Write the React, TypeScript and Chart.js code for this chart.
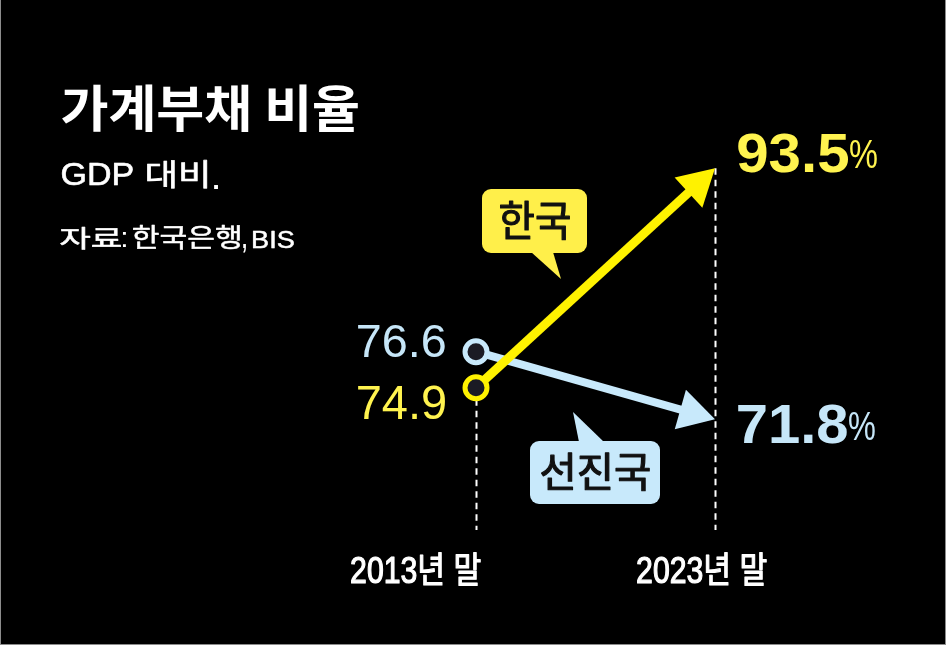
import React, { useEffect, useRef } from "react";
import { Chart, registerables } from "chart.js";

Chart.register(...registerables);

// ---- data ----
const periods = ["2013년 말", "2023년 말"];
const seriesNames = ["한국", "선진국"];
const koreaValues = [74.9, 93.5];
const advancedValues = [76.6, 71.8];
const titleText = "가계부채 비율";
const subtitleRuns = ["GDP", "대비", "."];
const sourceRuns = ["자료", ":", "한국은행", ",", "BIS"];

// ---- styles ----
const YELLOW = "#fff200";
const YELLOW_TEXT = "#fff34f";
const YELLOW_BOX = "#ffef4a";
const BLUE = "#c8e9fb";
const BLUE_TEXT = "#c6e6f8";
const DARK = "#1b1b24";
const LATIN = "'Liberation Sans', 'Noto Sans CJK KR', sans-serif";
const KR = "'Noto Sans CJK KR', 'Liberation Sans', sans-serif";

function fitText(
  ctx: CanvasRenderingContext2D,
  text: string,
  family: string,
  weight: string,
  color: string,
  x0: number,
  x1: number,
  y0: number,
  y1: number,
  extra = 0
) {
  ctx.save();
  ctx.font = `${weight} 100px ${family}`;
  ctx.textAlign = "left";
  ctx.textBaseline = "alphabetic";
  const m = ctx.measureText(text);
  const asc = m.actualBoundingBoxAscent;
  const desc = m.actualBoundingBoxDescent;
  const inkL = m.actualBoundingBoxLeft;
  const inkR = m.actualBoundingBoxRight;
  const e = extra / 2;
  const size = (100 * (y1 - y0 - extra)) / (asc + desc);
  const k = size / 100;
  const sx = (x1 - x0 - extra) / ((inkL + inkR) * k);
  ctx.font = `${weight} ${size}px ${family}`;
  ctx.fillStyle = color;
  ctx.strokeStyle = color;
  ctx.lineJoin = "round";
  ctx.translate(x0 + e, y0 + e + asc * k);
  ctx.scale(sx, 1);
  ctx.fillText(text, inkL * k, 0);
  if (extra > 0) {
    ctx.lineWidth = extra;
    ctx.strokeText(text, inkL * k, 0);
  }
  ctx.restore();
}

function bubble(
  ctx: CanvasRenderingContext2D,
  color: string,
  x: number,
  y: number,
  w: number,
  h: number,
  tail: number[][]
) {
  ctx.save();
  ctx.fillStyle = color;
  ctx.beginPath();
  (ctx as any).roundRect(x, y, w, h, 9);
  ctx.fill();
  ctx.beginPath();
  ctx.moveTo(tail[0][0], tail[0][1]);
  ctx.lineTo(tail[1][0], tail[1][1]);
  ctx.lineTo(tail[2][0], tail[2][1]);
  ctx.closePath();
  ctx.fill();
  ctx.restore();
}

const HEAD_LEN = 36;
const HEAD_HALF = 20.5;

function arrowVectors(meta: any) {
  const pts = meta.data;
  const tip = pts[pts.length - 1];
  const prev = pts[pts.length - 2];
  const dx = tip.x - prev.x;
  const dy = tip.y - prev.y;
  const len = Math.hypot(dx, dy);
  const ux = dx / len;
  const uy = dy / len;
  return { tip, ux, uy, nx: -uy, ny: ux };
}

const infographicPlugin = {
  id: "infographic",
  beforeDraw(chart: any) {
    const { ctx, width, height } = chart;
    ctx.save();
    ctx.fillStyle = "#000000";
    ctx.fillRect(0, 0, width, height);
    ctx.fillStyle = "#8c8c8c";
    ctx.fillRect(0, 0, 1, height);
    ctx.fillRect(width - 1, 0, 1, height);
    ctx.fillRect(0, height - 1, width, 1);
    ctx.restore();
  },
  beforeDatasetsDraw(chart: any) {
    const { ctx } = chart;
    const xs = chart.scales.x;
    const yK = chart.scales.yK;
    ctx.save();
    ctx.strokeStyle = "#ffffff";
    ctx.lineWidth = 2;
    ctx.setLineDash([6.5, 5]);
    koreaValues.forEach((v, i) => {
      const x = Math.round(xs.getPixelForValue(i)) + 0.5;
      const y = yK.getPixelForValue(v);
      ctx.beginPath();
      ctx.moveTo(x, y);
      ctx.lineTo(x, 530);
      ctx.stroke();
    });
    ctx.restore();
  },
  beforeDatasetDraw(chart: any, args: any) {
    const { ctx } = chart;
    const { tip, ux, uy, nx, ny } = arrowVectors(args.meta);
    const bx = tip.x - ux * HEAD_LEN * 0.6;
    const by = tip.y - uy * HEAD_LEN * 0.6;
    const L = 3000;
    ctx.save();
    ctx.beginPath();
    ctx.moveTo(bx + nx * L, by + ny * L);
    ctx.lineTo(bx + nx * L - ux * L, by + ny * L - uy * L);
    ctx.lineTo(bx - nx * L - ux * L, by - ny * L - uy * L);
    ctx.lineTo(bx - nx * L, by - ny * L);
    ctx.closePath();
    ctx.clip();
  },
  afterDatasetDraw(chart: any, args: any) {
    const { ctx } = chart;
    ctx.restore();
    const { tip, ux, uy, nx, ny } = arrowVectors(args.meta);
    const ds = chart.data.datasets[args.index];
    const bx = tip.x - ux * HEAD_LEN;
    const by = tip.y - uy * HEAD_LEN;
    ctx.save();
    ctx.fillStyle = ds.borderColor;
    ctx.beginPath();
    ctx.moveTo(tip.x, tip.y);
    ctx.lineTo(bx + nx * HEAD_HALF, by + ny * HEAD_HALF);
    ctx.lineTo(bx - nx * HEAD_HALF, by - ny * HEAD_HALF);
    ctx.closePath();
    ctx.fill();
    ctx.restore();
  },
  afterDraw(chart: any) {
    const { ctx } = chart;
    const xs = chart.scales.x;
    const yK = chart.scales.yK;
    const yA = chart.scales.yA;
    const W = "#ffffff";

    // headings
    fitText(ctx, titleText, KR, "bold", W, 62, 358, 85, 132);
    fitText(ctx, subtitleRuns[0], LATIN, "normal", W, 62, 133, 163, 186, 0.6);
    fitText(ctx, subtitleRuns[1], KR, "normal", W, 147, 207, 160, 188, 0.6);
    fitText(ctx, subtitleRuns[2], LATIN, "normal", W, 214, 218, 185, 189);
    fitText(ctx, sourceRuns[0], KR, "normal", W, 60, 121, 226, 249, 0.5);
    fitText(ctx, sourceRuns[1], LATIN, "normal", W, 123, 126, 232, 247);
    fitText(ctx, sourceRuns[2], KR, "normal", W, 133, 240, 225, 250, 0.5);
    fitText(ctx, sourceRuns[3], LATIN, "normal", W, 243, 246, 244, 253);
    fitText(ctx, sourceRuns[4], LATIN, "normal", W, 253, 294, 230, 248, 0.5);

    // start values
    const x0 = xs.getPixelForValue(0);
    const x1 = xs.getPixelForValue(1);
    const aStart = yA.getPixelForValue(advancedValues[0]);
    const kStart = yK.getPixelForValue(koreaValues[0]);
    fitText(ctx, advancedValues[0].toFixed(1), LATIN, "normal", BLUE_TEXT, x0 - 118, x0 - 31, aStart - 27, aStart + 6);
    fitText(ctx, koreaValues[0].toFixed(1), LATIN, "normal", YELLOW_TEXT, x0 - 118, x0 - 31, kStart - 2, kStart + 32);

    // end values
    const kEnd = yK.getPixelForValue(koreaValues[1]);
    const aEnd = yA.getPixelForValue(advancedValues[1]);
    fitText(ctx, koreaValues[1].toFixed(1), LATIN, "bold", YELLOW_TEXT, x1 + 23, x1 + 133, kEnd - 36, kEnd + 4);
    fitText(ctx, "%", LATIN, "normal", YELLOW_TEXT, x1 + 135, x1 + 162, kEnd - 29, kEnd);
    fitText(ctx, advancedValues[1].toFixed(1), LATIN, "bold", BLUE_TEXT, x1 + 23, x1 + 132, aEnd - 16, aEnd + 24);
    fitText(ctx, "%", LATIN, "normal", BLUE_TEXT, x1 + 134, x1 + 160, aEnd - 8, aEnd + 21);

    // category labels
    fitText(ctx, periods[0], LATIN, "normal", W, x0 - 125, x0 + 5, 552, 586, 1.2);
    fitText(ctx, periods[1], LATIN, "normal", W, x1 - 78, x1 + 52, 552, 586, 1.2);

    // bubbles
    bubble(ctx, YELLOW_BOX, 482, 189, 105, 64, [[531, 252], [553, 252], [561, 279]]);
    fitText(ctx, seriesNames[0], KR, "normal", "#111111", 500, 570, 200, 240, 1.2);
    bubble(ctx, BLUE, 530, 441, 130, 63, [[579, 442], [604, 442], [573, 412]]);
    fitText(ctx, seriesNames[1], KR, "normal", "#111111", 541, 650, 452, 491, 1.2);
  },
};

export default function App() {
  const canvasRef = useRef<HTMLCanvasElement | null>(null);

  useEffect(() => {
    const canvas = canvasRef.current;
    if (!canvas) return;
    const chart = new Chart(canvas, {
      type: "line",
      data: {
        labels: periods,
        datasets: [
          {
            label: seriesNames[0],
            data: koreaValues,
            yAxisID: "yK",
            borderColor: YELLOW,
            borderWidth: 9,
            borderCapStyle: "butt",
            pointRadius: [11, 0],
            pointBorderWidth: 5,
            pointBackgroundColor: DARK,
            pointBorderColor: YELLOW,
            pointHoverRadius: [11, 0],
            tension: 0,
            clip: false,
          } as any,
          {
            label: seriesNames[1],
            data: advancedValues,
            yAxisID: "yA",
            borderColor: BLUE,
            borderWidth: 8,
            borderCapStyle: "butt",
            pointRadius: [11, 0],
            pointBorderWidth: 5,
            pointBackgroundColor: DARK,
            pointBorderColor: BLUE,
            pointHoverRadius: [11, 0],
            tension: 0,
            clip: false,
          } as any,
        ],
      },
      options: {
        responsive: false,
        animation: false,
        events: [],
        layout: { padding: { left: 476, right: 231, top: 100, bottom: 105 } },
        plugins: {
          legend: { display: false },
          tooltip: { enabled: false },
          title: { display: false },
        },
        scales: {
          x: { type: "category", display: false, offset: false },
          yK: { type: "linear", display: false, min: 61.99, max: 99.29 },
          yA: { type: "linear", display: false, min: 63.23, max: 94.47 },
        },
      },
      plugins: [infographicPlugin],
    });
    return () => chart.destroy();
  }, []);

  return (
    <div style={{ position: "absolute", left: 0, top: 0, width: 946, height: 645, background: "#000" }}>
      <canvas ref={canvasRef} width={946} height={645} style={{ display: "block", width: 946, height: 645 }} />
    </div>
  );
}
